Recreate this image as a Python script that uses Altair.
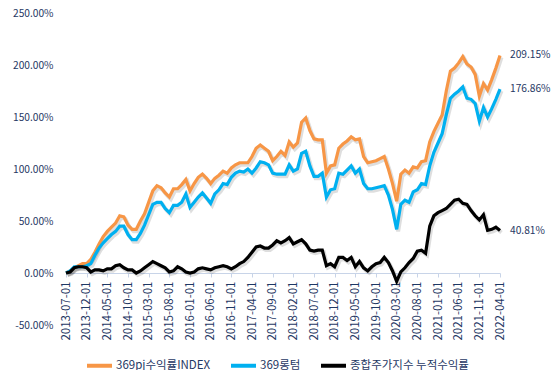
import altair as alt
import pandas as pd

months = [d.strftime("%Y-%m-%d") for d in pd.date_range("2013-07-01", "2022-04-01", freq="MS")]

pj_index = [0, 2, 5, 7, 9, 9, 13, 20, 28, 35, 40, 44, 48, 55, 54, 46, 42, 42, 50, 57,
            68, 79, 84, 82, 77, 73, 81, 81, 85, 90, 79, 86, 92, 95, 91, 86, 91, 94, 98, 96,
            101, 104, 106, 106, 106, 112, 120, 123, 120, 117, 108, 112, 117, 113, 126, 121, 125, 145, 149, 137,
            129, 128, 128, 96, 103, 104, 120, 124, 127, 131, 128, 129, 112, 106, 107, 108, 110, 112, 100, 86,
            69, 95, 99, 96, 102, 101, 107, 108, 126, 136, 144, 152, 175, 194, 197, 202, 208, 201, 198, 191,
            170, 182, 176, 186, 197, 209.15]

longterm = [0, 2, 6, 6, 6, 7, 9, 17, 24, 29, 33, 37, 40, 45, 45, 37, 32, 32, 38, 46,
            56, 66, 68, 68, 62, 58, 65, 65, 68, 76, 63, 68, 73, 77, 72, 67, 76, 80, 86, 85,
            92, 96, 98, 97, 100, 96, 101, 107, 106, 104, 96, 95, 95, 95, 104, 98, 100, 115, 117, 103,
            93, 93, 96, 73, 80, 81, 96, 95, 99, 103, 96, 100, 86, 81, 81, 82, 83, 84, 75, 61,
            42, 66, 70, 68, 78, 80, 86, 85, 103, 116, 125, 134, 152, 168, 172, 175, 179, 168, 167, 163,
            146, 159, 150, 158, 167, 176.86]

kospi = [0, 1, 5, 6, 6, 5, 1, 3, 3, 2, 4, 4, 7, 8, 5, 3, 3, 0, 2, 5,
         8, 11, 9, 7, 5, 1, 2, 6, 4, 1, 0, 1, 4, 5, 4, 3, 5, 6, 7, 6,
         4, 6, 9, 11, 15, 20, 25, 26, 24, 24, 27, 31, 29, 31, 34, 28, 30, 32, 28, 22,
         21, 22, 22, 7, 9, 6, 15, 15, 12, 15, 6, 11, 5, 2, 6, 9, 10, 15, 10, 2,
         -8, 1, 5, 10, 14, 21, 22, 19, 45, 55, 58, 60, 62, 66, 70, 71, 67, 66, 60, 55,
         51, 56, 41, 42, 44, 40.81]

series_names = ["369pj수익률INDEX", "369롱텀", "종합주가지수 누적수익률"]
series_colors = ["#F79646", "#00B0F0", "#000000"]
end_labels = ["209.15%", "176.86%", "40.81%"]
x_tick_step = 5
y_tick_values = [-50, 0, 50, 100, 150, 200, 250]

rows = []
for name, vals in zip(series_names, [pj_index, longterm, kospi]):
    for i, (m, v) in enumerate(zip(months, vals)):
        rows.append({"idx": i, "month": m, "series": name, "value": v})
df = pd.DataFrame(rows)

last = len(months) - 1
end_df = pd.DataFrame({
    "idx": [last] * 3,
    "series": series_names,
    "value": [pj_index[-1], longterm[-1], kospi[-1]],
    "label": end_labels,
})

month_array = "[" + ",".join("'" + m + "'" for m in months) + "]"

FONT = "Noto Sans CJK KR"
TXT = "#1F3864"

x_enc = alt.X("idx:Q",
              scale=alt.Scale(domain=[0, last], nice=False, zero=False),
              axis=alt.Axis(values=list(range(0, last + 1, x_tick_step)),
                            labelExpr=month_array + "[datum.value]",
                            labelAngle=-90, labelAlign="right",
                            labelBaseline="middle", title=None, offset=-52,
                            labelOverlap=False, labelFlush=False, labelBound=False,
                            domainColor="#C8D4E8", tickColor="#C8D4E8", tickSize=4,
                            labelPadding=4, labelColor=TXT, labelFont=FONT,
                            labelFontSize=11.5, grid=False))
y_enc = alt.Y("value:Q", scale=alt.Scale(domain=[-50, 250], nice=False, zero=False),
              axis=alt.Axis(values=y_tick_values, title=None, domain=False, ticks=False,
                            tickSize=0, grid=False, labelPadding=13, labelColor=TXT,
                            labelFont=FONT, labelFontSize=10.2, labelOverlap=False,
                            labelExpr="replace(format(datum.value, '.2f'), '\u2212', '-') + '%'"))

color_scale = alt.Scale(domain=series_names, range=series_colors)

shadow = alt.Chart(df).mark_line(strokeWidth=4, color="#000000", opacity=0.13,
                                 xOffset=1.5, yOffset=2).encode(
    x=x_enc, y=y_enc, detail="series:N")

lines = alt.Chart(df).mark_line(strokeWidth=3.2).encode(
    x=x_enc, y=y_enc,
    color=alt.Color("series:N", scale=color_scale, sort=series_names,
                    legend=alt.Legend(title=None, orient="none", legendX=19, legendY=338,
                                      direction="horizontal", symbolType="stroke",
                                      symbolSize=625, symbolStrokeWidth=4,
                                      labelFont=FONT, labelFontSize=11.5, labelColor=TXT,
                                      labelOffset=2, columnPadding=12)),
)

labels = alt.Chart(end_df).mark_text(align="left", baseline="middle", dx=10,
                                     font=FONT, fontSize=10.2, color=TXT).encode(
    x=x_enc, y=y_enc, text="label:N")

chart = alt.layer(shadow, lines, labels).properties(
    width=434, height=312,
    autosize=alt.AutoSizeParams(type="none"),
    padding={"left": 58, "top": 5, "right": 52, "bottom": 45},
    background="white",
).configure_view(stroke=None)

chart.save("out.html", embed_options={"renderer": "svg", "actions": False})
